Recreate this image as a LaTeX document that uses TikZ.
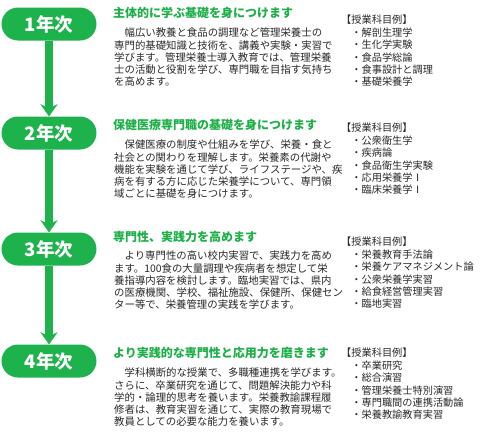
\documentclass[tikz,border=0pt]{standalone}
\usepackage{fontspec}
\setmainfont{Noto Sans CJK JP}
\usetikzlibrary{arrows.meta}
\definecolor{leafgreen}{RGB}{30,178,76}
\definecolor{titlegreen}{RGB}{30,176,72}
\definecolor{bodygray}{RGB}{40,40,40}

\begin{document}
\begin{tikzpicture}[x=1pt, y=-1pt,
    year/.style={fill=leafgreen, text=white, minimum width=95pt,
                 minimum height=33pt, rounded corners=16.5pt, inner sep=0pt,
                 font=\fontsize{18.5}{18.5}\selectfont\bfseries},
    stem/.style={draw=leafgreen, line width=7.5pt,
                 -{Stealth[length=12pt, width=17pt, inset=4pt, line width=0.1pt, fill=leafgreen]}},
    heading/.style={anchor=west, inner sep=0pt, text=titlegreen,
                    font=\fontsize{12}{14}\selectfont\bfseries},
    body/.style={anchor=north west, inner sep=0pt, align=left, text=bodygray,
                 font=\fontsize{10.4}{12.2}\selectfont},
    subjects/.style={body, font=\fontsize{10.2}{12.4}\selectfont}]

  \useasboundingbox (0,0) rectangle (480,437);

  % year pills
  \node[year] (y1) at (49, 24)  {1年次};
  \node[year] (y2) at (49, 133) {2年次};
  \node[year] (y3) at (49, 249) {3年次};
  \node[year] (y4) at (49, 361) {4年次};

  \foreach \a/\b in {y1/y2, y2/y3, y3/y4}
    \draw[stem] (\a) -- (\b);

  % 1年次
  \node[heading] (t1) at (113, 13) {主体的に学ぶ基礎を身につけます};
  \node[body] (b1) at (114, 28) {\hspace*{1em}幅広い教養と食品の調理など管理栄養士の\\
    専門的基礎知識と技術を、講義や実験・実習で\\
    学びます。管理栄養士導入教育では、管理栄養\\
    士の活動と役割を学び、専門職を目指す気持ち\\
    を高めます。};
  \node[subjects] (s1) at (341, 15) {【授業科目例】\\
    \quad・解剖生理学\\ \quad・生化学実験\\ \quad・食品学総論\\
    \quad・食事設計と調理\\ \quad・基礎栄養学};

  % 2年次
  \node[heading] (t2) at (113, 125) {保健医療専門職の基礎を身につけます};
  \node[body] (b2) at (114, 140) {\hspace*{1em}保健医療の制度や仕組みを学び、栄養・食と\\
    社会との関わりを理解します。栄養素の代謝や\\
    機能を実験を通じて学び、ライフステージや、疾\\
    病を有する方に応じた栄養学について、専門領\\
    域ごとに基礎を身につけます。};
  \node[subjects] (s2) at (341, 123) {【授業科目例】\\
    \quad・公衆衛生学\\ \quad・疾病論\\ \quad・食品衛生学実験\\
    \quad・応用栄養学Ⅰ\\ \quad・臨床栄養学Ⅰ};

  % 3年次
  \node[heading] (t3) at (113, 237) {専門性、実践力を高めます};
  \node[body] (b3) at (114, 251) {\hspace*{1em}より専門性の高い校内実習で、実践力を高め\\
    ます。100食の大量調理や疾病者を想定して栄\\
    養指導内容を検討します。臨地実習では、県内\\
    の医療機関、学校、福祉施設、保健所、保健セン\\
    ター等で、栄養管理の実践を学びます。};
  \node[subjects] (s3) at (341, 237) {【授業科目例】\\
    \quad・栄養教育手法論\\ \quad・栄養ケアマネジメント論\\ \quad・公衆栄養学実習\\
    \quad・給食経営管理実習\\ \quad・臨地実習};

  % 4年次
  \node[heading] (t4) at (113, 353) {より実践的な専門性と応用力を磨きます};
  \node[body] (b4) at (114, 368) {\hspace*{1em}学科横断的な授業で、多職種連携を学びます。\\
    さらに、卒業研究を通じて、問題解決能力や科\\
    学的・論理的思考を養います。栄養教諭課程履\\
    修者は、教育実習を通じて、実際の教育現場で\\
    教員としての必要な能力を養います。};
  \node[subjects] (s4) at (341, 348) {【授業科目例】\\
    \quad・卒業研究\\ \quad・総合演習\\ \quad・管理栄養士特別演習\\
    \quad・専門職間の連携活動論\\ \quad・栄養教諭教育実習};
\end{tikzpicture}
\end{document}
